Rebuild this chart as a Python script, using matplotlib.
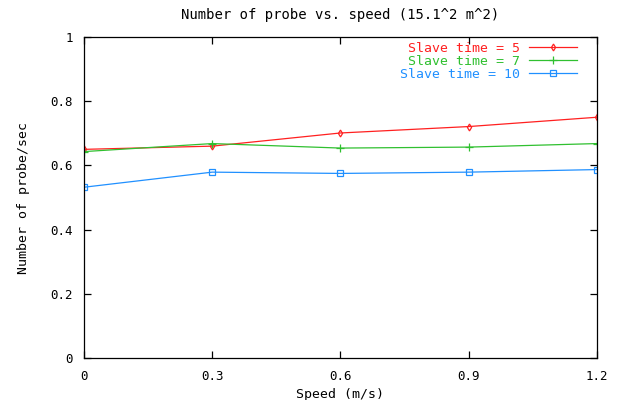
import matplotlib
matplotlib.use('Agg')
import matplotlib.pyplot as plt

# speeds (m/s) and probe rates per slave time
speed = [0, 0.3, 0.6, 0.9, 1.2]
slave5 = [0.650, 0.660, 0.701, 0.721, 0.750]
slave7 = [0.643, 0.668, 0.654, 0.657, 0.668]
slave10 = [0.532, 0.579, 0.575, 0.579, 0.587]

plt.rcParams['font.family'] = 'DejaVu Sans Mono'
plt.rcParams['font.size'] = 9

fig = plt.figure(figsize=(6.25, 4), dpi=100)
ax = fig.add_axes([0.1344, 0.105, 0.8206, 0.8025])

ax.plot(speed, slave5, color='#ff2020', lw=0.9, marker='d', ms=3.5,
        mfc='none', mew=0.9, label='Slave time = 5')
ax.plot(speed, slave7, color='#30c030', lw=0.9, marker='+', ms=6,
        mew=0.9, label='Slave time = 7')
ax.plot(speed, slave10, color='#2090ff', lw=0.9, marker='s', ms=4,
        mfc='none', mew=0.9, label='Slave time = 10')

ax.set_xlim(0, 1.2)
ax.set_ylim(0, 1)
ax.set_xticks(speed)
ax.set_xticklabels(['0', '0.3', '0.6', '0.9', '1.2'])
ax.set_yticks([0, 0.2, 0.4, 0.6, 0.8, 1])
ax.set_yticklabels(['0', '0.2', '0.4', '0.6', '0.8', '1'])
ax.tick_params(direction='in', top=True, right=True, length=5, width=0.9)
ax.tick_params(axis='x', pad=9)
ax.tick_params(axis='y', pad=8)
for s in ax.spines.values():
    s.set_linewidth(0.9)

ax.set_title('Number of probe vs. speed (15.1^2 m^2)', pad=13, fontsize=10)
ax.set_xlabel('Speed (m/s)', labelpad=3, fontsize=9.5)
ax.set_ylabel('Number of probe/sec', labelpad=15, fontsize=9.5)

leg = ax.legend(loc='upper right', bbox_to_anchor=(0.961, 0.985),
                frameon=False, markerfirst=False, labelcolor='linecolor',
                handlelength=3.6, handletextpad=0.7, borderaxespad=0,
                borderpad=0, labelspacing=0, fontsize=9.5)
for t in leg.get_texts():
    t.set_ha('right')

plt.savefig('out.png', dpi=100)
